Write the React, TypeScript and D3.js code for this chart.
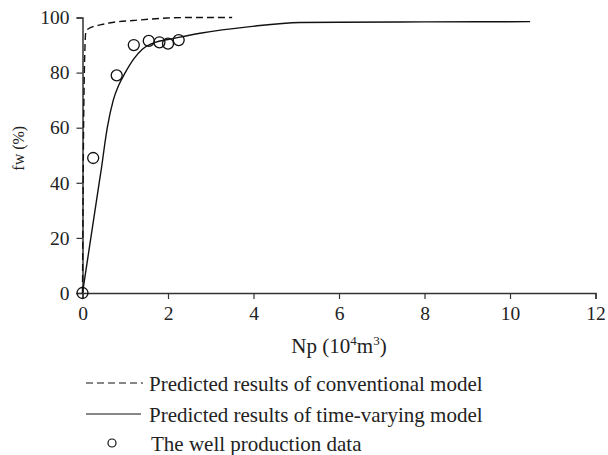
import React, { useEffect, useRef } from "react";
import * as d3 from "d3";

const conventionalNp = [0, 0.02, 0.05, 0.08, 0.15, 0.25, 0.41, 0.7, 1.18, 1.97, 2.5, 3.5];
const conventionalFw = [0, 50, 85, 95, 96, 96.7, 97.3, 98.2, 98.9, 99.8, 100, 100];

const timeVaryingNp = [0, 0.39, 0.45, 0.52, 0.58, 0.72, 0.85, 1.0, 1.2, 1.4, 1.7, 2.0, 2.75, 3.92, 5.09, 6.0, 8.0, 10.47];
const timeVaryingFw = [0, 40, 46, 54, 60, 70, 75.5, 80, 85, 88.5, 91, 92, 94.3, 96.7, 98.2, 98.3, 98.4, 98.5];

const wellNp = [0, 0.25, 0.8, 1.2, 1.55, 1.8, 2.0, 2.25];
const wellFw = [0, 49, 79, 90, 91.5, 91, 90.5, 91.8];

const xTicks = [0, 2, 4, 6, 8, 10, 12];
const yTicks = [0, 20, 40, 60, 80, 100];

const legendLabels = [
  "Predicted results of conventional model",
  "Predicted results of time-varying model",
  "The well production data",
];

const FONT = "'Liberation Serif', 'DejaVu Serif', serif";

export default function App() {
  const ref = useRef<SVGSVGElement>(null);

  useEffect(() => {
    const svg = d3.select(ref.current);
    svg.selectAll("*").remove();

    const margin = { top: 17.5, left: 82.5, right: 12.5, bottom: 162 };
    const width = 608 - margin.left - margin.right;
    const height = 455 - margin.top - margin.bottom;

    const x = d3.scaleLinear().domain([0, 12]).range([0, width]);
    const y = d3.scaleLinear().domain([0, 100]).range([height, 0]);

    const g = svg.append("g").attr("transform", `translate(${margin.left},${margin.top})`);

    const xAxis = g
      .append("g")
      .attr("transform", `translate(0,${height})`)
      .call(d3.axisBottom(x).tickValues(xTicks).tickSizeOuter(0).tickSize(6).tickPadding(7));
    const yAxis = g
      .append("g")
      .call(d3.axisLeft(y).tickValues(yTicks).tickSizeOuter(0).tickSize(6).tickPadding(7));

    [xAxis, yAxis].forEach((a) => {
      a.selectAll("text").attr("font-family", FONT).attr("font-size", 19.5).attr("fill", "#222");
      a.selectAll("line").attr("stroke", "#333").attr("stroke-width", 1.2);
      a.select(".domain").attr("stroke", "#333").attr("stroke-width", 1.5);
    });

    const line = d3
      .line<[number, number]>()
      .x((d) => x(d[0]))
      .y((d) => y(d[1]))
      .curve(d3.curveMonotoneX);

    const conv: [number, number][] = conventionalNp.map((v, i) => [v, conventionalFw[i]]);
    const tv: [number, number][] = timeVaryingNp.map((v, i) => [v, timeVaryingFw[i]]);

    g.append("path")
      .attr("d", line(conv))
      .attr("fill", "none")
      .attr("stroke", "#111")
      .attr("stroke-width", 1.4)
      .attr("stroke-dasharray", "7,4");

    g.append("path")
      .attr("d", line(tv))
      .attr("fill", "none")
      .attr("stroke", "#111")
      .attr("stroke-width", 1.4);

    g.selectAll(".pt")
      .data(wellNp.map((v, i) => [v, wellFw[i]]))
      .join("circle")
      .attr("class", "pt")
      .attr("cx", (d) => x(d[0]))
      .attr("cy", (d) => y(d[1]))
      .attr("r", 5.5)
      .attr("fill", "none")
      .attr("stroke", "#111")
      .attr("stroke-width", 1.3);

    // axis titles
    g.append("text")
      .attr("transform", `translate(${-59},${y(50) - 7}) rotate(-90)`)
      .attr("text-anchor", "middle")
      .attr("font-family", FONT)
      .attr("font-size", 16)
      .attr("fill", "#222")
      .text("fw (%)");

    const xt = g
      .append("text")
      .attr("x", x(6))
      .attr("y", height + 60)
      .attr("text-anchor", "middle")
      .attr("font-family", FONT)
      .attr("font-size", 21)
      .attr("fill", "#222");
    xt.append("tspan").text("Np (10");
    xt.append("tspan").attr("font-size", 13).attr("dy", -8).text("4");
    xt.append("tspan").attr("dy", 8).text("m");
    xt.append("tspan").attr("font-size", 13).attr("dy", -8).text("3");
    xt.append("tspan").attr("dy", 8).text(")");

    // legend
    const lg = svg.append("g");
    const rows = [383, 414, 443];
    lg.append("line")
      .attr("x1", 86).attr("x2", 143).attr("y1", rows[0]).attr("y2", rows[0])
      .attr("stroke", "#111").attr("stroke-width", 1.2).attr("stroke-dasharray", "7,4");
    lg.append("line")
      .attr("x1", 86).attr("x2", 141).attr("y1", rows[1]).attr("y2", rows[1])
      .attr("stroke", "#111").attr("stroke-width", 1.2);
    lg.append("circle")
      .attr("cx", 112).attr("cy", rows[2]).attr("r", 4)
      .attr("fill", "none").attr("stroke", "#111").attr("stroke-width", 1.2);
    lg.selectAll(".lt")
      .data(legendLabels)
      .join("text")
      .attr("class", "lt")
      .attr("x", (_, i) => (i === 2 ? 151 : 149))
      .attr("y", (_, i) => rows[i] + 7.5)
      .attr("font-family", FONT)
      .attr("font-size", 21)
      .attr("fill", "#222")
      .text((d) => d);
  }, []);

  return (
    <svg
      ref={ref}
      width={608}
      height={455}
      style={{ position: "absolute", left: 0, top: 0, background: "#fff" }}
    />
  );
}
